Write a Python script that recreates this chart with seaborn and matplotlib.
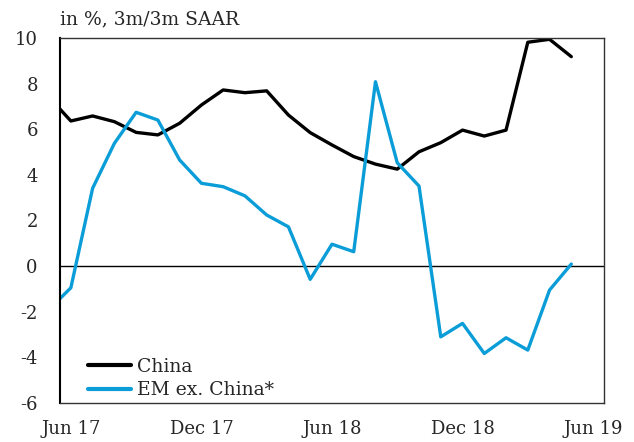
import pandas as pd
import matplotlib
matplotlib.use('Agg')
import matplotlib.pyplot as plt
import seaborn as sns

# monthly, May 17 .. May 19 (index 0 = Jun 17)
months = list(range(-1, 24))
china = [7.4, 6.36, 6.58, 6.33, 5.86, 5.75, 6.26, 7.06, 7.72, 7.60, 7.68, 6.62, 5.85,
         5.31, 4.80, 4.47, 4.25, 5.01, 5.41, 5.96, 5.70, 5.96, 9.81, 9.94, 9.18]
em_ex_china = [-1.9, -0.95, 3.41, 5.38, 6.74, 6.40, 4.65, 3.63, 3.48, 3.08, 2.24, 1.72, -0.58,
               0.96, 0.63, 8.08, 4.53, 3.51, -3.10, -2.51, -3.83, -3.14, -3.68, -1.05, 0.09]
tick_pos = [0, 6, 12, 18, 24]
tick_labels = ['Jun 17', 'Dec 17', 'Jun 18', 'Dec 18', 'Jun 19']

df = pd.DataFrame({'month': months * 2,
                   'value': china + em_ex_china,
                   'series': ['China'] * len(months) + ['EM ex. China*'] * len(months)})

sns.set_style('white')
plt.rcParams['font.family'] = ['DejaVu Serif']
plt.rcParams['axes.unicode_minus'] = False

fig = plt.figure(figsize=(6.34, 4.42), dpi=100)
ax = fig.add_axes([0.0946, 0.0882, 0.858, 0.826])

ax.axhline(0, color='black', linewidth=1)
sns.lineplot(data=df, x='month', y='value', hue='series',
             palette={'China': 'black', 'EM ex. China*': '#0b9dd8'},
             linewidth=2.4, ax=ax)

ax.set_xlim(-0.5, 24.5)
ax.set_ylim(-6, 10)
ax.set_yticks(range(-6, 11, 2))
ax.set_xticks(tick_pos)
ax.set_xticklabels(tick_labels)
ax.tick_params(axis='both', labelsize=13, length=0)
ax.tick_params(axis='x', pad=12)
ax.tick_params(axis='y', pad=16)
ax.set_xlabel('')
ax.set_ylabel('')
for s in ax.spines.values():
    s.set_color('#333333')
    s.set_linewidth(1)
ax.spines['left'].set_color('black')
ax.spines['left'].set_linewidth(1.5)

leg = ax.legend(loc='lower left', frameon=False, fontsize=13.5, handlelength=2.3,
                handletextpad=0.3, labelspacing=0.3, borderaxespad=0.0, borderpad=0.2,
                bbox_to_anchor=(0.045, 0.0))
for line in leg.get_lines():
    line.set_linewidth(3)

fig.text(0.0946, 0.935, 'in %, 3m/3m SAAR', fontsize=13.5, ha='left', va='bottom')

fig.savefig('out.png', dpi=100)
